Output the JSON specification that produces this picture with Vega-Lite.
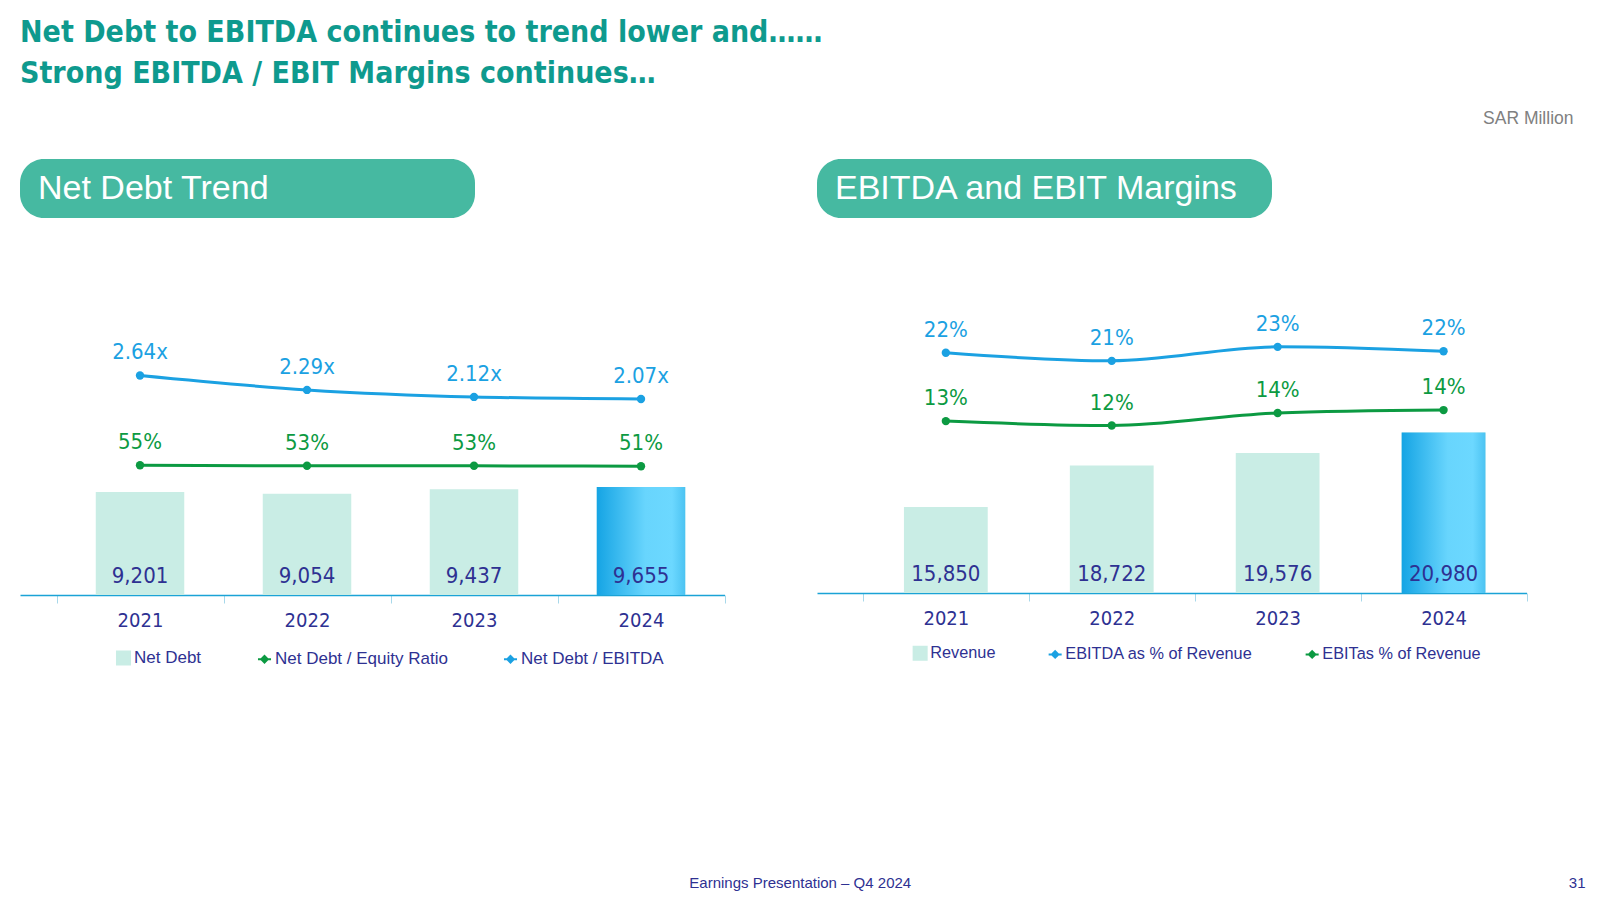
{
  "$schema": "https://vega.github.io/schema/vega-lite/v6.json",
  "background": "white",
  "padding": {"left": 20, "top": 17, "right": 0, "bottom": 0},
  "config": {
    "view": {"stroke": null},
    "axis": {"grid": false},
    "font": "Liberation Sans"
  },
  "title": {
    "text": ["Net Debt to EBITDA continues to trend lower and……", "Strong EBITDA / EBIT Margins continues…"],
    "anchor": "start",
    "frame": "bounds",
    "font": "DejaVu Sans Condensed, sans-serif",
    "fontSize": 30,
    "fontWeight": "bold",
    "color": "#0E9A8E",
    "lineHeight": 41,
    "baseline": "top",
    "offset": 21
  },
  "datasets": {
    "nd": [
      {"year": "2021", "series": "Net Debt", "value": 9201},
      {"year": "2022", "series": "Net Debt", "value": 9054},
      {"year": "2023", "series": "Net Debt", "value": 9437},
      {"year": "2024", "series": "Net Debt", "value": 9655},
      {"year": "2021", "series": "Net Debt / Equity Ratio", "value": 0.55},
      {"year": "2022", "series": "Net Debt / Equity Ratio", "value": 0.53},
      {"year": "2023", "series": "Net Debt / Equity Ratio", "value": 0.53},
      {"year": "2024", "series": "Net Debt / Equity Ratio", "value": 0.51},
      {"year": "2021", "series": "Net Debt / EBITDA", "value": 2.64, "label": "2.64x"},
      {"year": "2022", "series": "Net Debt / EBITDA", "value": 2.29, "label": "2.29x"},
      {"year": "2023", "series": "Net Debt / EBITDA", "value": 2.12, "label": "2.12x"},
      {"year": "2024", "series": "Net Debt / EBITDA", "value": 2.07, "label": "2.07x"}
    ],
    "rev": [
      {"year": "2021", "series": "Revenue", "value": 15850},
      {"year": "2022", "series": "Revenue", "value": 18722},
      {"year": "2023", "series": "Revenue", "value": 19576},
      {"year": "2024", "series": "Revenue", "value": 20980},
      {"year": "2021", "series": "EBITDA as % of Revenue", "value": 0.222},
      {"year": "2022", "series": "EBITDA as % of Revenue", "value": 0.211},
      {"year": "2023", "series": "EBITDA as % of Revenue", "value": 0.230},
      {"year": "2024", "series": "EBITDA as % of Revenue", "value": 0.224},
      {"year": "2021", "series": "EBITas % of Revenue", "value": 0.129},
      {"year": "2022", "series": "EBITas % of Revenue", "value": 0.123},
      {"year": "2023", "series": "EBITas % of Revenue", "value": 0.140},
      {"year": "2024", "series": "EBITas % of Revenue", "value": 0.144}
    ]
  },
  "vconcat": [
    {
      "title": {
        "text": "Earnings Presentation – Q4 2024",
        "orient": "bottom",
        "anchor": "middle",
        "frame": "bounds",
        "font": "Liberation Sans",
        "fontSize": 15,
        "fontWeight": "normal",
        "color": "#2E3192",
        "offset": -15,
        "dx": -2.5
      },
      "spacing": 91,
      "resolve": {"scale": {"color": "independent"}, "legend": {"color": "independent"}},
      "hconcat": [
        {
          "spacing": 77,
          "vconcat": [
            {
              "width": 455,
              "height": 59,
              "view": {"fill": "#46B9A1", "stroke": null, "cornerRadius": 24},
              "data": {"values": [{"label": "Net Debt Trend"}]},
              "mark": {"type": "text", "align": "left", "baseline": "middle", "dx": 18, "fontSize": 34, "color": "white", "font": "Liberation Sans"},
              "encoding": {
                "x": {"datum": 0, "type": "quantitative", "scale": {"domain": [0, 1]}, "axis": null},
                "text": {"field": "label"}
              }
            },
            {
              "width": 704.5,
              "height": 300,
              "data": {"name": "nd"},
              "resolve": {"scale": {"y": "independent"}},
              "encoding": {
                "x": {
                  "field": "year", "type": "ordinal",
                  "scale": {"paddingInner": 0, "paddingOuter": 0.1093, "align": 1},
                  "axis": {
                    "title": null, "labelAngle": 0, "domainColor": "#1BA3D6", "domainWidth": 1.5,
                    "tickColor": "#A8D8EA", "tickSize": 8, "tickBand": "extent",
                    "labelFontSize": 20, "labelColor": "#2E3192", "labelPadding": 7,
                    "labelFont": "DejaVu Sans Condensed, sans-serif"
                  }
                }
              },
              "layer": [
                {
                  "transform": [{"filter": "datum.series === 'Net Debt'"}],
                  "encoding": {
                    "y": {
                      "field": "value", "type": "quantitative",
                      "scale": {"domain": [0, 26800], "nice": false, "zero": false},
                      "axis": null
                    }
                  },
                  "layer": [
                    {
                      "mark": {"type": "bar", "width": {"band": 0.53}},
                      "encoding": {
                        "color": {
                          "field": "series", "type": "nominal",
                          "scale": {"domain": ["Net Debt", "Net Debt / Equity Ratio", "Net Debt / EBITDA"], "range": ["#C9EDE5", "#0C9A42", "#1BA1E2"]},
                          "legend": {
                            "orient": "none", "legendX": 95, "legendY": 490, "direction": "horizontal",
                            "title": null, "labelFontSize": 17, "labelColor": "#2E3192", "labelFont": "Liberation Sans",
                            "labelLimit": 400, "columnPadding": 51, "symbolSize": 170, "labelOffset": 2, "symbolOpacity": 1,
                            "encode": {
                              "symbols": {
                                "update": {
                                  "shape": {"signal": "datum.value === 'Net Debt' ? 'square' : 'M-1,0H1M0,-0.5L0.5,0L0,0.5L-0.5,0Z'"},
                                  "fill": {"signal": "datum.value === 'Net Debt' ? '#C9EDE5' : datum.value === 'Net Debt / Equity Ratio' ? '#0C9A42' : '#1BA1E2'"},
                                  "stroke": {"signal": "datum.value === 'Net Debt' ? '#C9EDE5' : datum.value === 'Net Debt / Equity Ratio' ? '#0C9A42' : '#1BA1E2'"},
                                  "strokeWidth": {"value": 2},
                                  "opacity": {"value": 1}
                                }
                              }
                            }
                          }
                        }
                      }
                    },
                    {
                      "transform": [{"filter": "datum.year === '2024'"}],
                      "mark": {"type": "bar", "width": {"band": 0.53}, "color": {"gradient": "linear", "x1": 0, "x2": 1, "y1": 0, "y2": 0, "stops": [{"offset": 0, "color": "#15A4E4"}, {"offset": 0.55, "color": "#68D5FD"}, {"offset": 0.85, "color": "#6CD8FF"}, {"offset": 1, "color": "#4CC3F2"}]}}
                    },
                    {
                      "mark": {"type": "text", "baseline": "middle", "dy": -19, "fontSize": 22, "color": "#2E3192", "font": "DejaVu Sans Condensed, sans-serif"},
                      "encoding": {
                        "y": {"datum": 0, "type": "quantitative"},
                        "text": {"field": "value", "type": "quantitative", "format": ",.0f"}
                      }
                    }
                  ]
                },
                {
                  "transform": [{"filter": "datum.series === 'Net Debt / Equity Ratio'"}],
                  "encoding": {
                    "y": {"field": "value", "type": "quantitative", "scale": {"domain": [-4.638, 7.362], "nice": false, "zero": false}, "axis": null}
                  },
                  "layer": [
                    {"mark": {"type": "line", "interpolate": "monotone", "strokeWidth": 3}, "encoding": {"color": {"field": "series", "type": "nominal"}}},
                    {"mark": {"type": "point", "filled": true, "size": 70, "opacity": 1, "color": "#0C9A42"}},
                    {
                      "mark": {"type": "text", "baseline": "middle", "dy": -23, "fontSize": 22, "color": "#0C9A42", "font": "DejaVu Sans Condensed, sans-serif"},
                      "encoding": {"text": {"field": "value", "type": "quantitative", "format": ".0%"}}
                    }
                  ]
                },
                {
                  "transform": [{"filter": "datum.series === 'Net Debt / EBITDA'"}],
                  "encoding": {
                    "y": {"field": "value", "type": "quantitative", "scale": {"domain": [-2.688, 4.594], "nice": false, "zero": false}, "axis": null}
                  },
                  "layer": [
                    {"mark": {"type": "line", "interpolate": "monotone", "strokeWidth": 3}, "encoding": {"color": {"field": "series", "type": "nominal"}}},
                    {"mark": {"type": "point", "filled": true, "size": 70, "opacity": 1, "color": "#1BA1E2"}},
                    {
                      "mark": {"type": "text", "baseline": "middle", "dy": -23, "fontSize": 22, "color": "#1BA1E2", "font": "DejaVu Sans Condensed, sans-serif"},
                      "encoding": {"text": {"field": "label", "type": "nominal"}}
                    }
                  ]
                }
              ]
            }
          ]
        },
        {
          "title": {
            "text": "SAR Million", "orient": "top", "anchor": "end", "frame": "bounds",
            "font": "Liberation Sans", "fontSize": 17.5, "fontWeight": "normal", "color": "#808080",
            "offset": 32, "dx": -12
          },
          "spacing": 75,
          "vconcat": [
            {
              "width": 455,
              "height": 59,
              "view": {"fill": "#46B9A1", "stroke": null, "cornerRadius": 24},
              "data": {"values": [{"label": "EBITDA and EBIT Margins"}]},
              "mark": {"type": "text", "align": "left", "baseline": "middle", "dx": 18, "fontSize": 34, "color": "white", "font": "Liberation Sans"},
              "encoding": {
                "x": {"datum": 0, "type": "quantitative", "scale": {"domain": [0, 1]}, "axis": null},
                "text": {"field": "label"}
              }
            },
            {
              "width": 709.5,
              "height": 300,
              "title": {
                "text": "31", "orient": "bottom", "anchor": "end", "frame": "group",
                "font": "Liberation Sans", "fontSize": 15, "fontWeight": "normal", "color": "#2E3192",
                "offset": 248, "dx": 59
              },
              "data": {"name": "rev"},
              "resolve": {"scale": {"y": "independent"}},
              "encoding": {
                "x": {
                  "field": "year", "type": "ordinal",
                  "scale": {"paddingInner": 0, "paddingOuter": 0.1383, "align": 1},
                  "axis": {
                    "title": null, "labelAngle": 0, "domainColor": "#1BA3D6", "domainWidth": 1.5,
                    "tickColor": "#A8D8EA", "tickSize": 8, "tickBand": "extent",
                    "labelFontSize": 20, "labelColor": "#2E3192", "labelPadding": 7,
                    "labelFont": "DejaVu Sans Condensed, sans-serif"
                  }
                }
              },
              "layer": [
                {
                  "transform": [{"filter": "datum.series === 'Revenue'"}],
                  "encoding": {
                    "y": {
                      "field": "value", "type": "quantitative",
                      "scale": {"domain": [9935, 30592], "nice": false, "zero": false},
                      "axis": null
                    }
                  },
                  "layer": [
                    {
                      "mark": {"type": "bar", "width": {"band": 0.505}},
                      "encoding": {
                        "y2": {"datum": 9935},
                        "color": {
                          "field": "series", "type": "nominal",
                          "scale": {"domain": ["Revenue", "EBITDA as % of Revenue", "EBITas % of Revenue"], "range": ["#C9EDE5", "#1BA1E2", "#0C9A42"]},
                          "legend": {
                            "orient": "none", "legendX": 95, "legendY": 486, "direction": "horizontal",
                            "title": null, "labelFontSize": 16.3, "labelColor": "#2E3192", "labelFont": "Liberation Sans",
                            "labelLimit": 400, "columnPadding": 48, "symbolSize": 170, "labelOffset": 2, "symbolOpacity": 1,
                            "encode": {
                              "symbols": {
                                "update": {
                                  "shape": {"signal": "datum.value === 'Revenue' ? 'square' : 'M-1,0H1M0,-0.5L0.5,0L0,0.5L-0.5,0Z'"},
                                  "fill": {"signal": "datum.value === 'Revenue' ? '#C9EDE5' : datum.value === 'EBITDA as % of Revenue' ? '#1BA1E2' : '#0C9A42'"},
                                  "stroke": {"signal": "datum.value === 'Revenue' ? '#C9EDE5' : datum.value === 'EBITDA as % of Revenue' ? '#1BA1E2' : '#0C9A42'"},
                                  "strokeWidth": {"value": 2},
                                  "opacity": {"value": 1}
                                }
                              }
                            }
                          }
                        }
                      }
                    },
                    {
                      "transform": [{"filter": "datum.year === '2024'"}],
                      "mark": {"type": "bar", "width": {"band": 0.505}, "color": {"gradient": "linear", "x1": 0, "x2": 1, "y1": 0, "y2": 0, "stops": [{"offset": 0, "color": "#15A4E4"}, {"offset": 0.55, "color": "#68D5FD"}, {"offset": 0.85, "color": "#6CD8FF"}, {"offset": 1, "color": "#4CC3F2"}]}},
                      "encoding": {"y2": {"datum": 9935}}
                    },
                    {
                      "mark": {"type": "text", "baseline": "middle", "dy": -19.5, "fontSize": 22, "color": "#2E3192", "font": "DejaVu Sans Condensed, sans-serif"},
                      "encoding": {
                        "y": {"datum": 9935, "type": "quantitative"},
                        "text": {"field": "value", "type": "quantitative", "format": ",.0f"}
                      }
                    }
                  ]
                },
                {
                  "transform": [{"filter": "datum.series !== 'Revenue'"}],
                  "encoding": {
                    "y": {"field": "value", "type": "quantitative", "scale": {"domain": [-0.1049, 0.3033], "nice": false, "zero": false}, "axis": null}
                  },
                  "layer": [
                    {"mark": {"type": "line", "interpolate": "monotone", "strokeWidth": 3}, "encoding": {"color": {"field": "series", "type": "nominal"}}},
                    {"mark": {"type": "point", "filled": true, "size": 70, "opacity": 1}, "encoding": {"color": {"field": "series", "type": "nominal"}}},
                    {
                      "mark": {"type": "text", "baseline": "middle", "dy": -23, "fontSize": 22, "font": "DejaVu Sans Condensed, sans-serif"},
                      "encoding": {
                        "color": {"field": "series", "type": "nominal"},
                        "text": {"field": "value", "type": "quantitative", "format": ".0%"}
                      }
                    }
                  ]
                }
              ]
            }
          ]
        }
      ]
    }
  ]
}
